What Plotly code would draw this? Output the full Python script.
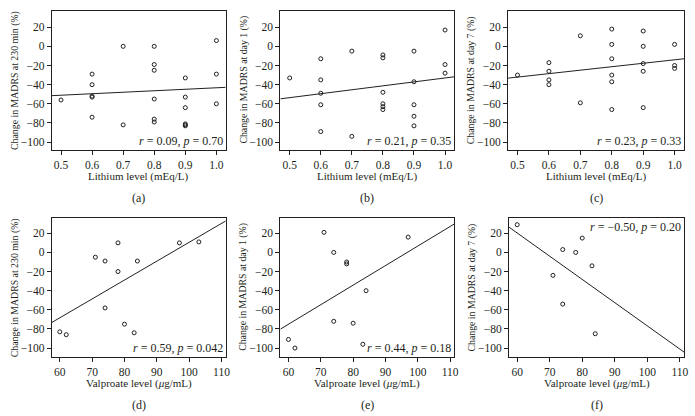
import plotly.graph_objects as go

# ---------------- data ----------------
li_a_x = [0.5, 0.6, 0.6, 0.6, 0.6, 0.6, 0.7, 0.7, 0.8, 0.8, 0.8, 0.8, 0.8, 0.8,
          0.9, 0.9, 0.9, 0.9, 0.9, 0.9, 1.0, 1.0, 1.0]
li_a_y = [-56, -29, -40, -52, -53, -74, 0, -82, 0, -19, -25, -55, -76, -79,
          -33, -53, -64, -81, -82, -83, 6, -29, -60]

li_b_x = [0.5, 0.6, 0.6, 0.6, 0.6, 0.6, 0.7, 0.7, 0.8, 0.8, 0.8, 0.8, 0.8, 0.8,
          0.9, 0.9, 0.9, 0.9, 0.9, 1.0, 1.0, 1.0]
li_b_y = [-33, -13, -35, -49, -61, -89, -5, -94, -9, -12, -48, -60, -63, -66,
          -5, -37, -61, -73, -83, 17, -19, -28]

li_c_x = [0.5, 0.6, 0.6, 0.6, 0.6, 0.7, 0.7, 0.8, 0.8, 0.8, 0.8, 0.8, 0.8,
          0.9, 0.9, 0.9, 0.9, 0.9, 1.0, 1.0, 1.0]
li_c_y = [-30, -17, -26, -35, -40, 11, -59, 18, 2, -13, -30, -37, -66,
          16, 0, -18, -26, -64, 2, -20, -23]

vp_d_x = [60, 62, 71, 74, 74, 78, 78, 80, 83, 84, 97, 103]
vp_d_y = [-83, -86, -5, -9, -58, 10, -20, -75, -84, -9, 10, 11]

vp_e_x = [60, 62, 71, 74, 74, 78, 78, 80, 83, 84, 97]
vp_e_y = [-91, -100, 21, 0, -72, -10, -12, -74, -96, -40, 16]

vp_f_x = [60, 71, 74, 74, 78, 80, 83, 84]
vp_f_y = [29, -24, 3, -54, 0, 15, -14, -85]

# regression lines (endpoints)
fit_li_x = [0.47, 1.03]
fit_a_y = [-51.5, -42.8]
fit_b_y = [-54.8, -31.8]
fit_c_y = [-33.2, -13.0]
fit_vp_x = [57.5, 111.3]
fit_d_y = [-73.3, 32.9]
fit_e_y = [-80.2, 29.8]
fit_f_y = [26.4, -104.2]

stats = ["<i>r</i> = 0.09, <i>p</i> = 0.70",
         "<i>r</i> = 0.21, <i>p</i> = 0.35",
         "<i>r</i> = 0.23, <i>p</i> = 0.33",
         "<i>r</i> = 0.59, <i>p</i> = 0.042",
         "<i>r</i> = 0.44, <i>p</i> = 0.18",
         "<i>r</i> = \u22120.50, <i>p</i> = 0.20"]
ytitles = ["Change in MADRS at 230 min (%)", "Change in MADRS at day 1 (%)",
           "Change in MADRS at day 7 (%)", "Change in MADRS at 230 min (%)",
           "Change in MADRS at day 1 (%)", "Change in MADRS at day 7 (%)"]
xtitles = ["Lithium level (mEq/L)"] * 3 + ["Valproate level (<i>\u03bc</i>g/mL)"] * 3
panel_labels = ["(a)", "(b)", "(c)", "(d)", "(e)", "(f)"]
y_ticks = [20, 0, -20, -40, -60, -80, -100]
li_ticks = [0.5, 0.6, 0.7, 0.8, 0.9, 1.0]
vp_ticks = [60, 70, 80, 90, 100, 110]

# ---------------- layout ----------------
W, H = 695, 416
FONT = "Liberation Serif, Times New Roman, serif"
INK = "#231f20"

panels = [
    (li_a_x, li_a_y, fit_li_x, fit_a_y),
    (li_b_x, li_b_y, fit_li_x, fit_b_y),
    (li_c_x, li_c_y, fit_li_x, fit_c_y),
    (vp_d_x, vp_d_y, fit_vp_x, fit_d_y),
    (vp_e_x, vp_e_y, fit_vp_x, fit_e_y),
    (vp_f_x, vp_f_y, fit_vp_x, fit_f_y),
]
# pixel boxes (left, right, top, bottom)
boxes = [(52, 227, 10.5, 149.5), (282, 457, 10.5, 149.5), (511, 688, 10.5, 149.5),
         (52, 227, 218, 356.5), (282, 457, 218, 356.5), (512, 688, 218, 356.5)]

fig = go.Figure()
layout = dict(width=W, height=H, margin=dict(l=0, r=0, t=0, b=0),
              plot_bgcolor="white", paper_bgcolor="white", showlegend=False,
              font=dict(family=FONT, size=11, color=INK))
annotations = []

for i, ((px, py, fx, fy), (l, r, t, b)) in enumerate(zip(panels, boxes)):
    n = "" if i == 0 else str(i + 1)
    xa, ya = "x" + n, "y" + n
    fig.add_trace(go.Scatter(x=fx, y=fy, mode="lines", xaxis=xa, yaxis=ya,
                             line=dict(color=INK, width=1), hoverinfo="skip"))
    fig.add_trace(go.Scatter(x=px, y=py, mode="markers", xaxis=xa, yaxis=ya,
                             marker=dict(symbol="circle-open", size=4,
                                         color=INK, line=dict(width=1, color=INK))))
    li = i < 3
    common = dict(showline=True, mirror=True, linecolor=INK, linewidth=1,
                  ticks="outside", ticklen=4, tickcolor=INK, showgrid=False,
                  zeroline=False, tickfont=dict(family=FONT, size=11.5, color=INK))
    layout["xaxis" + n] = dict(common, domain=[l / W, r / W], anchor=ya,
                               range=[fit_li_x[0], fit_li_x[1]] if li else [fit_vp_x[0], fit_vp_x[1]],
                               tickvals=li_ticks if li else vp_ticks,
                               ticktext=[f"{v:.1f}" for v in li_ticks] if li else [str(v) for v in vp_ticks],
                               ticklabelstandoff=1)
    layout["yaxis" + n] = dict(common, domain=[1 - b / H, 1 - t / H], anchor=xa,
                               range=[-107.7, 37.4] if li else [-108.8, 36],
                               tickvals=y_ticks)
    top_right = (i == 5)
    annotations.append(dict(text=stats[i], xref=xa + " domain", yref=ya + " domain",
                            x=1, y=1 if top_right else 0, xanchor="right",
                            yanchor="top" if top_right else "bottom", showarrow=False,
                            xshift=-1, font=dict(family=FONT, size=12, color=INK)))
    # x-axis title
    annotations.append(dict(text=xtitles[i], xref="paper", yref="paper",
                            x=(l + r) / 2 / W, y=1 - (b + 26.5) / H,
                            xanchor="center", yanchor="middle",
                            showarrow=False, font=dict(family=FONT, size=11, color=INK)))
    # y-axis title
    annotations.append(dict(text=ytitles[i], xref="paper", yref="paper",
                            x=(l - 37) / W, y=1 - (t + b) / 2 / H, xanchor="center",
                            yanchor="middle", textangle=-90, showarrow=False,
                            font=dict(family=FONT, size=9.8, color=INK)))
    # panel label
    annotations.append(dict(text=panel_labels[i], xref="paper", yref="paper",
                            x=(l + r) / 2 / W, y=1 - (b + 48) / H,
                            xanchor="center", yanchor="middle",
                            showarrow=False, font=dict(family=FONT, size=12, color=INK)))

layout["annotations"] = annotations
fig.update_layout(**layout)
fig.write_html("out.html", config={"displayModeBar": False},
               post_script="document.body.style.margin='0';document.body.style.overflow='hidden';")
